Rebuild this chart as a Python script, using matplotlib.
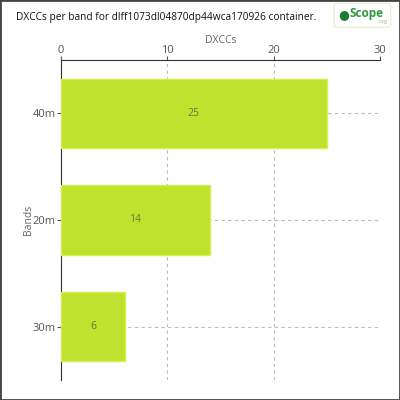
import matplotlib
matplotlib.use("Agg")
import matplotlib.pyplot as plt
from matplotlib.patches import Rectangle, FancyBboxPatch

bands = ["40m", "20m", "30m"]
dxccs = [25, 14, 6]
xticks = [0, 10, 20, 30]
title = "DXCCs per band for dlff1073dl04870dp44wca170926 container."

FONT = ["Open Sans", "DejaVu Sans"]
plt.rcParams["font.family"] = FONT

fig = plt.figure(figsize=(4, 4), dpi=100)
fig.patches.append(Rectangle((0, 0), 1, 1, transform=fig.transFigure,
                             fill=False, edgecolor="#444444", linewidth=2))

ax = fig.add_axes([0.1525, 0.05, 0.7975, 0.80])
ypos = list(range(len(bands)))
ax.barh(ypos, dxccs, height=0.65, color="#bfe22f",
        edgecolor="#d6f04a", linewidth=1, zorder=3)
for y, v in zip(ypos, dxccs):
    ax.text(v / 2, y, str(v), ha="center", va="center",
            fontsize=7.5, color="#6b7a3a", zorder=4)

ax.set_xlim(0, 30)
ax.set_ylim(2.5, -0.5)
ax.set_xticks(xticks)
ax.set_yticks(ypos)
ax.set_yticklabels(bands)
ax.xaxis.tick_top()
ax.xaxis.set_label_position("top")
ax.set_xlabel("DXCCs", fontsize=7.5, color="#666666", labelpad=1)
ax.set_ylabel("Bands", fontsize=7.5, color="#666666", labelpad=-1)
ax.tick_params(axis="both", labelsize=8, colors="#555555", length=3, pad=1)
ax.tick_params(axis="x", pad=0)
for s in ["right", "bottom"]:
    ax.spines[s].set_visible(False)
for s in ["left", "top"]:
    ax.spines[s].set_color("#333333")
ax.grid(True, linestyle=(0, (3, 3)), color="#bbbbbb", linewidth=0.8, zorder=0)

fig.text(0.04, 0.957, title, fontsize=7.3, color="#111111", va="center", ha="left")

# logo
fig.patches.append(FancyBboxPatch((0.835, 0.932), 0.142, 0.06,
                                  boxstyle="round,pad=0,rounding_size=0.008",
                                  transform=fig.transFigure, facecolor="white",
                                  edgecolor="#e6ecd0", linewidth=0.8))
fig.text(0.86, 0.964, "●", fontsize=9, color="#1f7a3a", ha="center", va="center")
fig.text(0.873, 0.966, "Scope", fontsize=8.5, color="#2e9a3a", ha="left",
         va="center", fontweight="bold")
fig.text(0.945, 0.947, ".org", fontsize=4, color="#9cc16a", ha="left", va="center")

fig.savefig("out.png", dpi=100)
